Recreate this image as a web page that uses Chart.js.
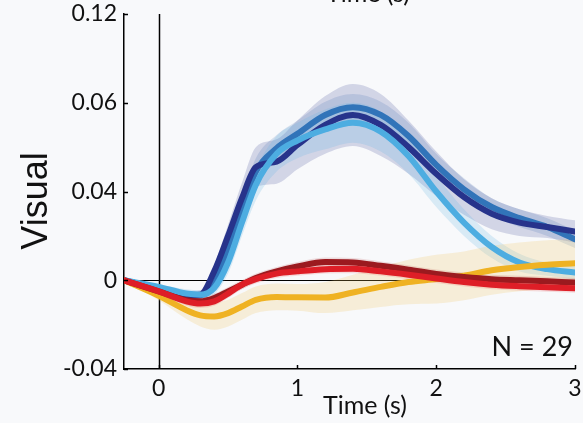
<!DOCTYPE html>
<html>
<head>
<meta charset="utf-8">
<script src="https://cdn.jsdelivr.net/npm/chart.js@4"></script>
<style>
html,body{margin:0;padding:0;background:#f8f9fb;}
#wrap{width:583px;height:423px;position:relative;}
</style>
</head>
<body>
<div id="wrap"><canvas id="c" width="583" height="423"></canvas></div>
<script>
// ---- data ----
const times = [-0.25, 0, 0.2, 0.3, 0.4, 0.5, 0.6, 0.7, 0.85, 1.0, 1.2, 1.4, 1.6, 1.8, 2.0, 2.2, 2.4, 2.6, 2.8, 3.0];

const navyMean   = [0, -0.004, -0.0068, -0.0065, 0.004, 0.020, 0.037, 0.051, 0.0535, 0.061, 0.070, 0.0745, 0.070, 0.060, 0.048, 0.0375, 0.030, 0.026, 0.024, 0.022];
const navySe     = [0, 0.001, 0.002, 0.002, 0.003, 0.005, 0.007, 0.009, 0.010, 0.011, 0.013, 0.014, 0.014, 0.012, 0.010, 0.008, 0.007, 0.006, 0.005, 0.005];

const mediumMean = [0, -0.004, -0.007, -0.0068, -0.002, 0.015, 0.032, 0.049, 0.0595, 0.066, 0.0745, 0.078, 0.0745, 0.065, 0.052, 0.041, 0.033, 0.028, 0.024, 0.0185];
const mediumSe   = [0, 0.001, 0.002, 0.002, 0.002, 0.004, 0.005, 0.006, 0.006, 0.006, 0.006, 0.006, 0.006, 0.006, 0.005, 0.005, 0.004, 0.004, 0.004, 0.004];

const lightMean  = [0, -0.003, -0.006, -0.0065, -0.0035, 0.008, 0.026, 0.043, 0.057, 0.063, 0.068, 0.071, 0.067, 0.056, 0.040, 0.026, 0.015, 0.008, 0.005, 0.0035];
const lightSe    = [0, 0.001, 0.002, 0.002, 0.003, 0.005, 0.006, 0.007, 0.008, 0.008, 0.009, 0.009, 0.009, 0.008, 0.007, 0.006, 0.005, 0.004, 0.003, 0.003];

const darkRedMean = [0, -0.005, -0.009, -0.0095, -0.008, -0.005, -0.002, 0.001, 0.004, 0.0062, 0.0082, 0.008, 0.0065, 0.0048, 0.0028, 0.0015, 0.0005, 0, -0.0005, -0.001];
const darkRedSe   = [0, 0.001, 0.002, 0.002, 0.002, 0.002, 0.002, 0.002, 0.002, 0.002, 0.002, 0.002, 0.002, 0.002, 0.002, 0.002, 0.002, 0.002, 0.002, 0.002];

const redMean    = [0, -0.005, -0.0095, -0.0105, -0.0095, -0.006, -0.002, 0.0005, 0.003, 0.004, 0.005, 0.0052, 0.004, 0.0025, 0.0008, -0.0008, -0.002, -0.0027, -0.0032, -0.0036];
const redSe      = [0, 0.001, 0.002, 0.002, 0.002, 0.002, 0.002, 0.002, 0.002, 0.002, 0.002, 0.002, 0.002, 0.002, 0.002, 0.002, 0.002, 0.002, 0.002, 0.002];

const yellowMean = [0, -0.007, -0.0135, -0.0158, -0.0163, -0.0148, -0.0118, -0.0088, -0.0075, -0.0077, -0.0078, -0.0055, -0.003, -0.0008, 0.0005, 0.002, 0.0045, 0.006, 0.007, 0.0077];
const yellowSe   = [0, 0.002, 0.004, 0.005, 0.006, 0.006, 0.006, 0.006, 0.006, 0.006, 0.007, 0.008, 0.009, 0.010, 0.011, 0.011, 0.011, 0.011, 0.011, 0.011];

const xTicks = [0, 1, 2, 3];
const xTickLabels = ['0', '1', '2', '3'];
const yTicks = [-0.04, 0, 0.04, 0.08, 0.12];
const yTickLabels = ['-0.04', '0', '0.04', '0.06', '0.12'];

// ---- build ----
function pts(mean, se, sign) {
  return times.map((t, i) => ({x: t, y: mean[i] + sign * se[i]}));
}
const series = [
  {mean: redMean, se: redSe, color: '#de1e27', band: 'rgba(225,60,60,0.16)'},
  {mean: darkRedMean, se: darkRedSe, color: '#9b1a1f', band: 'rgba(170,40,40,0.14)'},
  {mean: yellowMean, se: yellowSe, color: '#efb223', band: 'rgba(240,195,90,0.22)'},
  {mean: lightMean, se: lightSe, color: '#4dade1', band: 'rgba(90,175,225,0.20)'},
  {mean: navyMean, se: navySe, color: '#27338b', band: 'rgba(60,70,150,0.20)'},
  {mean: mediumMean, se: mediumSe, color: '#3174b9', band: 'rgba(60,110,180,0.18)'}
];
const lineCommon = {pointRadius: 0, borderWidth: 6, cubicInterpolationMode: 'monotone', fill: false, borderCapStyle: 'round', borderJoinStyle: 'round'};
const datasets = [];
series.forEach(s => datasets.push(Object.assign({data: pts(s.mean, s.se, 0), borderColor: s.color}, lineCommon)));
series.forEach(s => {
  datasets.push({data: pts(s.mean, s.se, 1), borderWidth: 0, pointRadius: 0, cubicInterpolationMode: 'monotone', fill: false});
  datasets.push({data: pts(s.mean, s.se, -1), borderWidth: 0, pointRadius: 0, cubicInterpolationMode: 'monotone', fill: '-1', backgroundColor: s.band});
});

const tickFont = {family: 'Lato', size: 23};

const decor = {
  id: 'decor',
  beforeDatasetsDraw(chart) {
    const {ctx, chartArea: a, scales: {x, y}} = chart;
    ctx.save();
    ctx.strokeStyle = '#000';
    ctx.lineWidth = 1.5;
    const x0 = Math.round(x.getPixelForValue(0)) + 0.5;
    ctx.beginPath(); ctx.moveTo(x0, a.top); ctx.lineTo(x0, a.bottom); ctx.stroke();
    const y0 = Math.round(y.getPixelForValue(0)) + 0.5;
    ctx.lineWidth = 1.2;
    ctx.beginPath(); ctx.moveTo(a.left, y0); ctx.lineTo(a.right, y0); ctx.stroke();
    ctx.restore();
  },
  afterDraw(chart) {
    const {ctx, chartArea: a, scales: {x, y}} = chart;
    ctx.save();
    ctx.strokeStyle = '#000';
    ctx.lineWidth = 1.5;
    yTicks.forEach(v => {
      const py = Math.round(y.getPixelForValue(v)) + 0.5;
      ctx.beginPath(); ctx.moveTo(a.left, py); ctx.lineTo(a.left + 4, py); ctx.stroke();
    });
    xTicks.forEach(v => {
      const px = Math.round(x.getPixelForValue(v)) + 0.5;
      ctx.beginPath(); ctx.moveTo(px, a.bottom); ctx.lineTo(px, a.bottom - 4); ctx.stroke();
    });
    ctx.fillStyle = '#111';
    ctx.font = '27px Lato';
    ctx.textAlign = 'right';
    ctx.textBaseline = 'alphabetic';
    ctx.fillText('N = 29', a.right - 2, a.bottom - 13);
    ctx.textAlign = 'center';
    ctx.font = '25px Lato';
    ctx.fillText('Time (s)', 365, 414);
    ctx.fillText('Time (s)', 368, 2);
    ctx.save();
    ctx.translate(47, 201);
    ctx.rotate(-Math.PI / 2);
    ctx.font = '36px "Liberation Sans"';
    ctx.textAlign = 'center';
    ctx.textBaseline = 'alphabetic';
    ctx.fillText('Visual', 0, 0);
    ctx.restore();
    ctx.restore();
  }
};

new Chart(document.getElementById('c'), {
  type: 'line',
  data: {datasets},
  plugins: [decor],
  options: {
    responsive: false,
    animation: false,
    layout: {padding: {top: 14, right: 8, left: 0, bottom: 0}},
    plugins: {legend: {display: false}, tooltip: {enabled: false}},
    scales: {
      x: {
        type: 'linear', min: -0.25, max: 3,
        afterBuildTicks: s => { s.ticks = xTicks.map(v => ({value: v})); },
        afterFit: s => { s.height = 54; s.paddingLeft = 0; s.paddingRight = 0; },
        ticks: {font: tickFont, color: '#111', padding: 6, maxRotation: 0,
          callback: (v) => xTickLabels[xTicks.indexOf(v)]},
        grid: {display: true, drawOnChartArea: false, drawTicks: false},
        border: {display: true, color: '#000', width: 1.5}
      },
      y: {
        type: 'linear', min: -0.04, max: 0.12,
        afterBuildTicks: s => { s.ticks = yTicks.map(v => ({value: v})); },
        afterFit: s => { s.width = 124; s.paddingTop = 0; s.paddingBottom = 0; },
        ticks: {font: tickFont, color: '#111', padding: 7,
          callback: (v) => yTickLabels[yTicks.findIndex(t => Math.abs(t - v) < 1e-9)]},
        grid: {display: true, drawOnChartArea: false, drawTicks: false},
        border: {display: true, color: '#000', width: 1.5}
      }
    }
  }
});
</script>
</body>
</html>
